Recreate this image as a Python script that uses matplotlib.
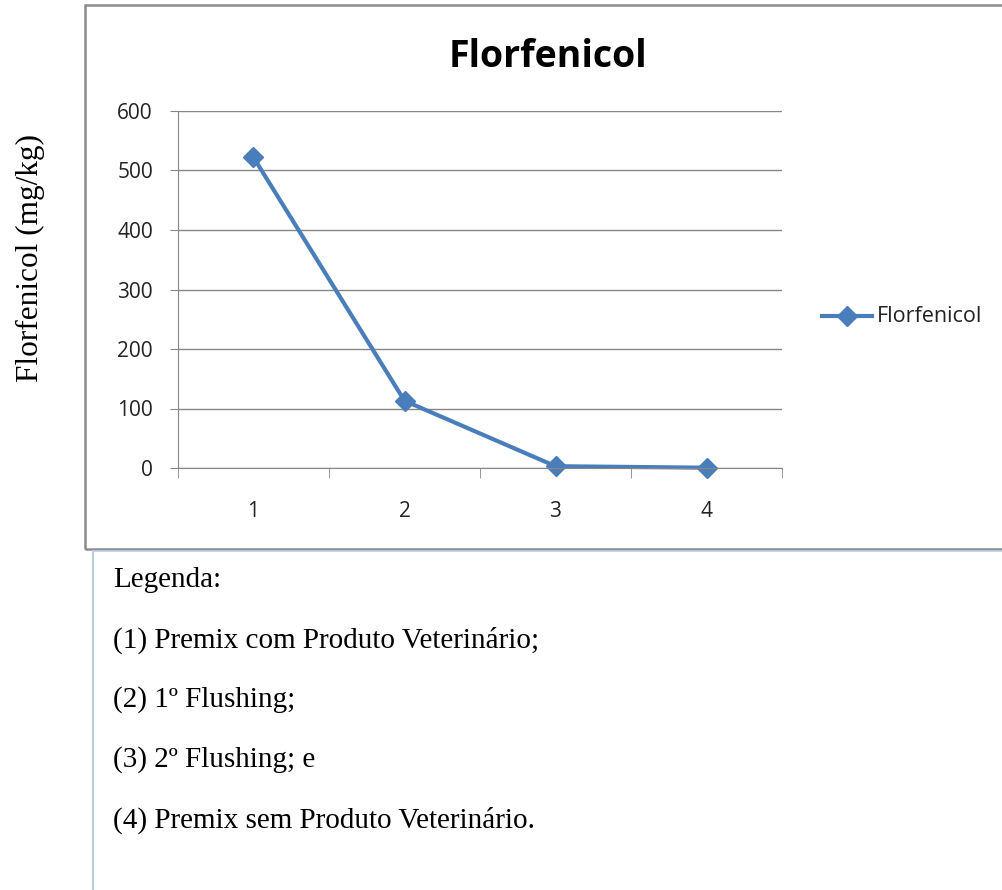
import matplotlib
matplotlib.use("Agg")
import matplotlib.pyplot as plt
from matplotlib.lines import Line2D
from matplotlib.patches import Rectangle

categories = ["1", "2", "3", "4"]
values = [522, 113, 3, 0.5]
series_name = "Florfenicol"
title = "Florfenicol"
ylabel = "Florfenicol (mg/kg)"
yticks = [0, 100, 200, 300, 400, 500, 600]
legend_lines = [
    "Legenda:",
    "(1) Premix com Produto Veterinário;",
    "(2) 1º Flushing;",
    "(3) 2º Flushing; e",
    "(4) Premix sem Produto Veterinário.",
]

W, H = 1003, 890
fig = plt.figure(figsize=(W / 100, H / 100), dpi=100)
fig.patch.set_facecolor("white")

def fx(px):
    return px / W

def fy(py):
    return 1 - py / H

# chart frame
fig.add_artist(Rectangle((fx(85), fy(549)), fx(1003) - fx(85) + 0.01, fy(5) - fy(549),
                         transform=fig.transFigure, fill=False, edgecolor="#8c8c8c", linewidth=1.8))
# document lines below
fig.add_artist(Line2D([fx(93), fx(93)], [fy(551), fy(890)], transform=fig.transFigure,
                      color="#b9cde5", linewidth=1.5))
fig.add_artist(Line2D([fx(93), fx(1003)], [fy(551), fy(551)], transform=fig.transFigure,
                      color="#b9cde5", linewidth=1.2))

ax = fig.add_axes([fx(178), fy(468), fx(782) - fx(178), fy(111) - fy(468)])
x = list(range(len(categories)))
line_color = "#4a7ebb"
ax.plot(x, values, color=line_color, linewidth=3.0, marker="D", markersize=10,
        markerfacecolor=line_color, markeredgecolor=line_color, label=series_name, clip_on=False)
ax.set_xlim(-0.5, len(categories) - 0.5)
ax.set_ylim(0, 600)
ax.set_yticks(yticks)
ax.set_xticks(x)
ax.set_xticklabels(categories)
ax.set_xticks([i - 0.5 for i in range(len(categories) + 1)], minor=True)
ax.yaxis.grid(True, color="#868686", linewidth=1.0)
ax.set_axisbelow(True)
for s in ["top", "right"]:
    ax.spines[s].set_visible(False)
ax.spines["left"].set_color("#868686")
ax.spines["bottom"].set_color("#868686")
ax.tick_params(axis="x", which="major", length=0, pad=24, labelsize=15, labelcolor="#222222")
ax.tick_params(axis="x", which="minor", length=7, color="#868686", direction="out")
ax.tick_params(axis="y", length=6, color="#868686", pad=12, labelsize=15, labelcolor="#222222")
for lab in ax.get_xticklabels() + ax.get_yticklabels():
    lab.set_family(["Open Sans", "DejaVu Sans"])

fig.text(fx(548), fy(57), title, ha="center", va="center", fontsize=27, fontweight="bold",
         family=["Open Sans", "DejaVu Sans"])

# legend
fig.add_artist(Line2D([fx(822), fx(872)], [fy(316), fy(316)], transform=fig.transFigure,
                      color=line_color, linewidth=3.0))
fig.add_artist(Line2D([fx(847)], [fy(316)], transform=fig.transFigure, marker="D",
                      markersize=10, color=line_color, linestyle="none"))
fig.text(fx(877), fy(316), series_name, ha="left", va="center", fontsize=15.5,
         family=["Open Sans", "DejaVu Sans"], color="#222222")

fig.text(fx(30), fy(258), ylabel, rotation=90, ha="center", va="center", fontsize=22.5,
         family=["Liberation Serif", "DejaVu Serif"])

for i, t in enumerate(legend_lines):
    fig.text(fx(113), fy(580 + 60 * i), t, ha="left", va="center", fontsize=21,
             family=["Liberation Serif", "DejaVu Serif"])

fig.savefig("out.png", dpi=100)
